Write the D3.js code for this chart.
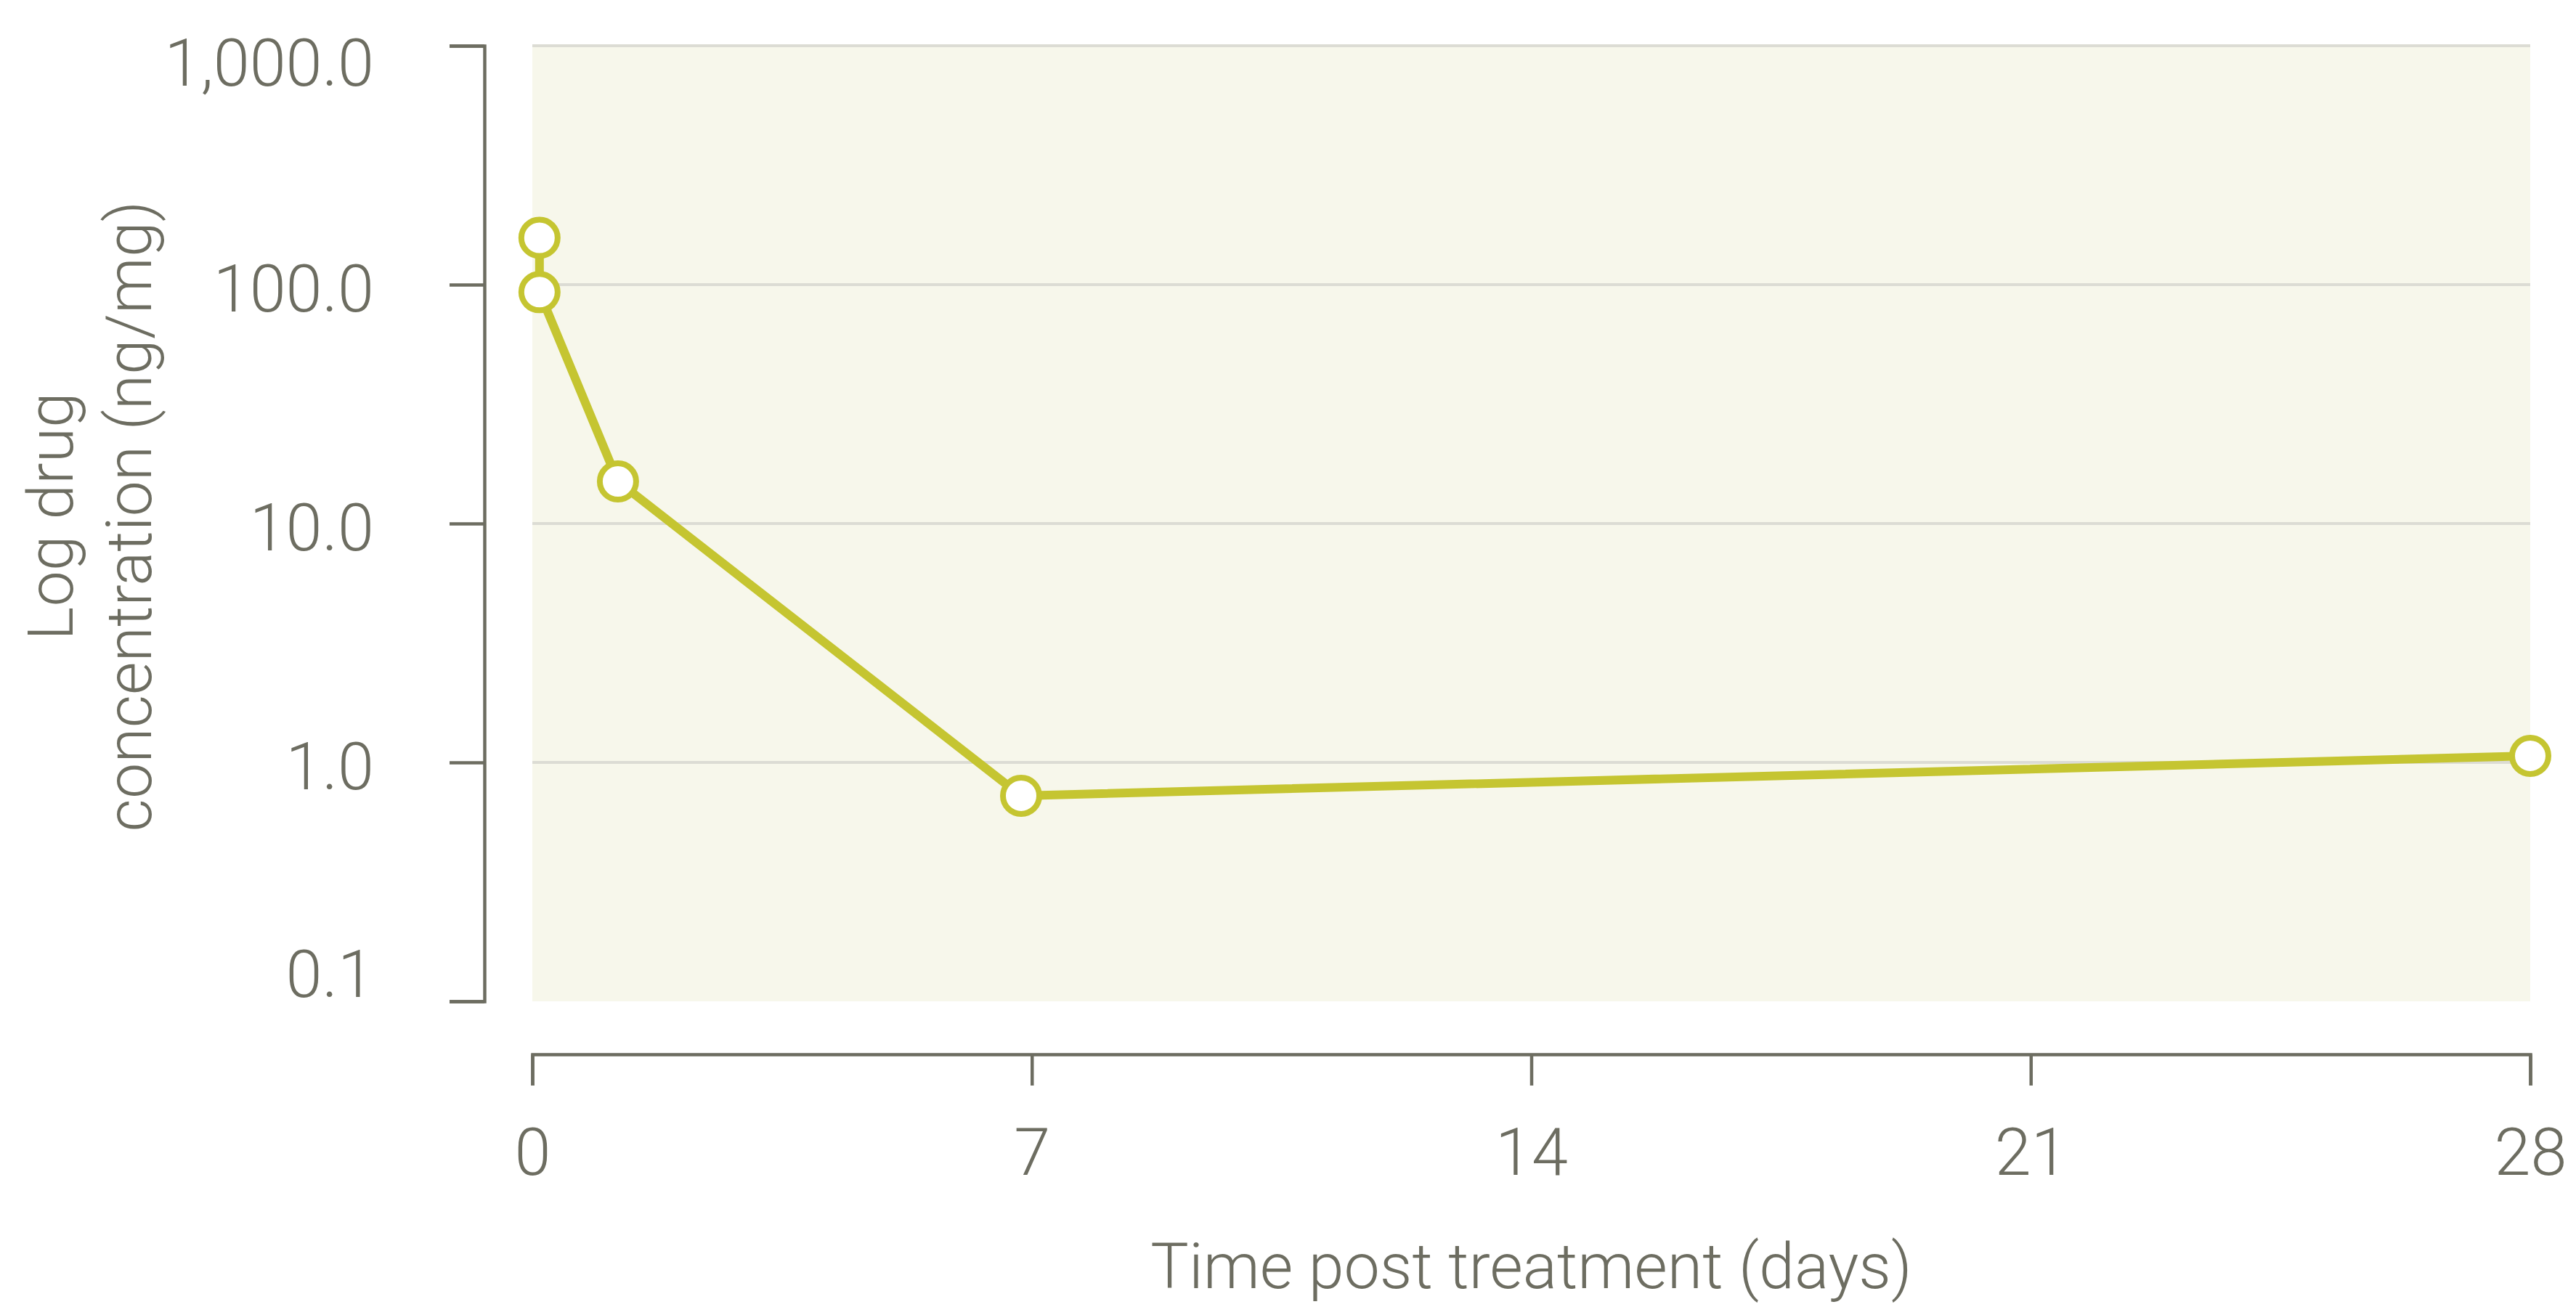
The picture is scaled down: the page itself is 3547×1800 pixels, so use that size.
<!DOCTYPE html>
<html>
<head>
<meta charset="utf-8">
<script src="https://cdn.jsdelivr.net/npm/d3@7"></script>
<style>
  body { margin: 0; background: #ffffff; }
  text { font-family: Roboto, "Open Sans", sans-serif; font-weight: 300; fill: #6d6d61; }
</style>
</head>
<body>
<div id="chart"></div>
<script>
// Datos
const days = [0.1, 0.1, 1.2, 6.85, 28];
const concentration = [157, 93, 15.0, 0.725, 1.065];
const yTicks = [0.1, 1, 10, 100, 1000];
const xTicks = [0, 7, 14, 21, 28];

const lineColor = '#c5c531';
const axisColor = '#6d6d61';

const W = 3547, H = 1800;
const plot = {left: 733, right: 3484, top: 63, bottom: 1379};

const svg = d3.select("#chart")
    .append("svg")
    .attr("width", W)
    .attr("height", H);

// Escalas
const x = d3.scaleLinear()
    .domain([0, 28])
    .range([plot.left, plot.right]);

const y = d3.scaleLog()
    .domain([0.1, 1000])
    .range([plot.bottom, plot.top]);

// Fondo del área de datos
svg.append("rect")
    .attr("x", x(0))
    .attr("y", y(1000))
    .attr("width", x(28) - x(0))
    .attr("height", y(0.1) - y(1000))
    .attr("fill", "#f7f7eb");

// Líneas de la cuadrícula
svg.selectAll(".grid")
    .data(yTicks.filter(d => d > 0.1))
    .enter()
    .append("line")
    .attr("class", "grid")
    .attr("x1", x(0))
    .attr("x2", x(28))
    .attr("y1", d => y(d))
    .attr("y2", d => y(d))
    .attr("stroke", "#dcdcd4")
    .attr("stroke-width", 4);

// Eje Y
const fmt = d3.format(",.1f");
const yAxis = svg.append("g")
    .attr("transform", "translate(667,0)")
    .call(d3.axisLeft(y)
        .tickValues(yTicks)
        .tickFormat(fmt)
        .tickSize(48)
        .tickPadding(104));

yAxis.selectAll("text")
    .attr("dy", null)
    .attr("y", d => Math.min(Math.max(y(d) + 36, 117), 1372) - y(d))
    .style("font-size", "90px");

// Eje X
const xAxis = svg.append("g")
    .attr("transform", "translate(0,1452)")
    .call(d3.axisBottom(x)
        .tickValues(xTicks)
        .tickSize(43)
        .tickPadding(59));

xAxis.selectAll("text")
    .style("font-size", "90px");

[yAxis, xAxis].forEach(g => {
    g.select(".domain").attr("stroke", axisColor).attr("stroke-width", 4.5);
    g.selectAll(".tick line").attr("stroke", axisColor).attr("stroke-width", 4.5);
    g.selectAll("text")
        .attr("fill", axisColor)
        .style("font-family", "Roboto, sans-serif")
        .style("font-weight", 300);
});

// Título del eje X
svg.append("text")
    .attr("x", x(14))
    .attr("y", 1774)
    .attr("text-anchor", "middle")
    .style("font-size", "88px")
    .text("Time post treatment (days)");

// Título del eje Y (dos líneas)
const yTitle = svg.append("text")
    .attr("transform", "translate(0,711) rotate(-90)")
    .attr("text-anchor", "middle")
    .style("font-size", "88px");

yTitle.append("tspan")
    .attr("x", 0)
    .attr("y", 100)
    .text("Log drug");

yTitle.append("tspan")
    .attr("x", 0)
    .attr("y", 208)
    .text("concentration (ng/mg)");

// Serie
const points = days.map((d, i) => ({day: d, value: concentration[i]}));

const line = d3.line()
    .x(d => x(d.day))
    .y(d => y(d.value));

svg.append("path")
    .datum(points)
    .attr("d", line)
    .attr("fill", "none")
    .attr("stroke", lineColor)
    .attr("stroke-width", 12)
    .attr("stroke-linejoin", "round");

svg.selectAll(".dot")
    .data(points)
    .enter()
    .append("circle")
    .attr("class", "dot")
    .attr("cx", d => x(d.day))
    .attr("cy", d => y(d.value))
    .attr("r", 25)
    .attr("fill", "#ffffff")
    .attr("stroke", lineColor)
    .attr("stroke-width", 8);
</script>
</body>
</html>
